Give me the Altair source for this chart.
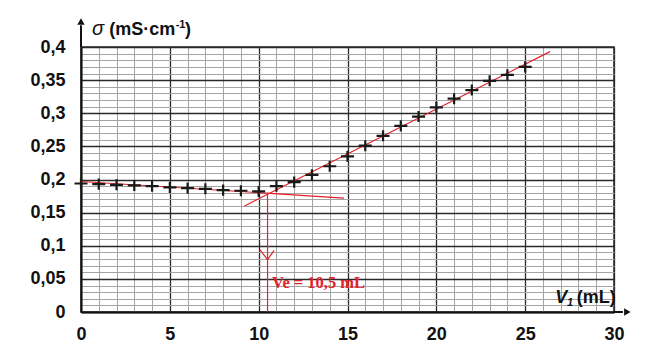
import altair as alt
import pandas as pd

# ---- data ----
V1 = list(range(0, 26))
sigma = [0.194, 0.193, 0.192, 0.191, 0.190, 0.188, 0.187, 0.186, 0.184, 0.183,
         0.182, 0.190, 0.196, 0.207, 0.220, 0.235, 0.251, 0.266, 0.281, 0.295,
         0.309, 0.322, 0.335, 0.349, 0.358, 0.370]

# red construction lines (x1, y1, x2, y2)
fit_x1 = [0.0, 9.2, 10.5, 10.07, 10.87]
fit_y1 = [0.197, 0.160, 0.0, 0.094, 0.093]
fit_x2 = [14.8, 26.4, 10.5, 10.5, 10.5]
fit_y2 = [0.172, 0.393, 0.180, 0.079, 0.079]

ve_label = "Ve = 10,5 mL"
ve_pos = [10.75, 0.036]

x_ticks = list(range(0, 31))
y_ticks = [round(i * 0.01, 2) for i in range(41)]

# axis arrows (extensions beyond the frame)
axis_ext_x1 = [0.0, 30.0]
axis_ext_y1 = [0.4, 0.0]
axis_ext_x2 = [0.0, 30.5]
axis_ext_y2 = [0.433, 0.0]
arrow_up = [0.0, 0.4385]
arrow_right = [30.75, 0.0]

FONT = "Liberation Sans"
RED = "#e3202b"

xs = alt.Scale(domain=[0, 30], nice=False, zero=False)
ys = alt.Scale(domain=[0, 0.4], nice=False, zero=False)

xaxis = alt.Axis(
    values=x_ticks, title=None, ticks=False, labelPadding=13,
    labelFlush=False, labelOverlap=False,
    labelExpr="datum.value % 5 === 0 ? datum.label : ''",
    labelFont=FONT, labelFontSize=18, labelFontWeight="bold", labelColor="#111",
    domainColor="#111", domainWidth=2,
    gridColor={"condition": {"test": "datum.value % 5 === 0", "value": "#2a2a2a"}, "value": "#a4a4a4"},
    gridWidth={"condition": {"test": "datum.value % 5 === 0", "value": 1.3}, "value": 1},
)
yaxis = alt.Axis(
    values=y_ticks, title=None, ticks=False, labelPadding=16,
    labelFlush=False, labelOverlap=False,
    labelExpr="abs(round(datum.value*100)) % 5 === 0 ? replace(format(datum.value, '.2~f'), '.', ',') : ''",
    labelFont=FONT, labelFontSize=18, labelFontWeight="bold", labelColor="#111",
    domainColor="#111", domainWidth=2,
    gridColor={"condition": {"test": "abs(round(datum.value*100)) % 5 === 0", "value": "#2a2a2a"}, "value": "#a4a4a4"},
    gridWidth={"condition": {"test": "abs(round(datum.value*100)) % 5 === 0", "value": 1.3}, "value": 1},
)


def X(f):
    return alt.X(f, type="quantitative", scale=xs, axis=xaxis)


def Y(f):
    return alt.Y(f, type="quantitative", scale=ys, axis=yaxis)


pts = pd.DataFrame({"x": V1, "y": sigma})
fits = pd.DataFrame({"x": fit_x1, "y": fit_y1, "x2": fit_x2, "y2": fit_y2})
ext = pd.DataFrame({"x": axis_ext_x1, "y": axis_ext_y1, "x2": axis_ext_x2, "y2": axis_ext_y2})

points = alt.Chart(pts).mark_point(
    shape="M-1,0L1,0M0,-0.85L0,0.85", size=170, filled=False,
    stroke="#1a1a1a", strokeWidth=2.2, opacity=1
).encode(x=X("x"), y=Y("y"))

red_lines = alt.Chart(fits).mark_rule(color=RED, strokeWidth=1.2).encode(
    x=X("x"), y=Y("y"), x2="x2", y2="y2")

axis_lines = alt.Chart(ext).mark_rule(color="#111", strokeWidth=2).encode(
    x=X("x"), y=Y("y"), x2="x2", y2="y2")

up = alt.Chart(pd.DataFrame({"x": [arrow_up[0]], "y": [arrow_up[1]]})).mark_point(
    shape="triangle-up", filled=True, size=55, color="#111", opacity=1
).encode(x=X("x"), y=Y("y"))
right = alt.Chart(pd.DataFrame({"x": [arrow_right[0]], "y": [arrow_right[1]]})).mark_point(
    shape="triangle-right", filled=True, size=55, color="#111", opacity=1
).encode(x=X("x"), y=Y("y"))

ve = alt.Chart(pd.DataFrame({"x": [ve_pos[0]], "y": [ve_pos[1]], "t": [ve_label]})).mark_text(
    align="left", baseline="alphabetic", font="Liberation Serif", fontSize=16.5,
    fontWeight="bold", color=RED
).encode(x=X("x"), y=Y("y"), text="t:N")

# axis titles as text pieces
def txt(x, y, t, size, weight="bold", style="normal", align="left"):
    return alt.Chart(pd.DataFrame({"x": [x], "y": [y], "t": [t]})).mark_text(
        align=align, baseline="alphabetic", font=FONT, fontSize=size,
        fontWeight=weight, fontStyle=style, color="#111"
    ).encode(x=X("x"), y=Y("y"), text="t:N")

sig1 = txt(1.3, 0.418, "σ", 20, weight="normal", style="italic", align="right")
sig2 = txt(5.3, 0.418, "(mS·cm", 18, align="right")
sig3 = txt(5.33, 0.4285, "-1", 11)
sig4 = txt(5.85, 0.418, ")", 18)

v1 = txt(26.7, 0.0132, "V", 18, style="italic")
v2 = txt(27.35, 0.009, "1", 11, style="italic")
v3 = txt(27.9, 0.0132, "(mL)", 18)

chart = alt.layer(
    red_lines, points, axis_lines, up, right, ve,
    sig1, sig2, sig3, sig4, v1, v2, v3
).properties(
    width=533, height=265,
    autosize=alt.AutoSizeParams(type="none"),
    padding={"left": 73, "top": 39, "right": 20, "bottom": 36},
).configure_view(stroke="#2a2a2a", strokeWidth=1.5)

chart.save("out.html", embed_options={"renderer": "svg", "actions": False})
